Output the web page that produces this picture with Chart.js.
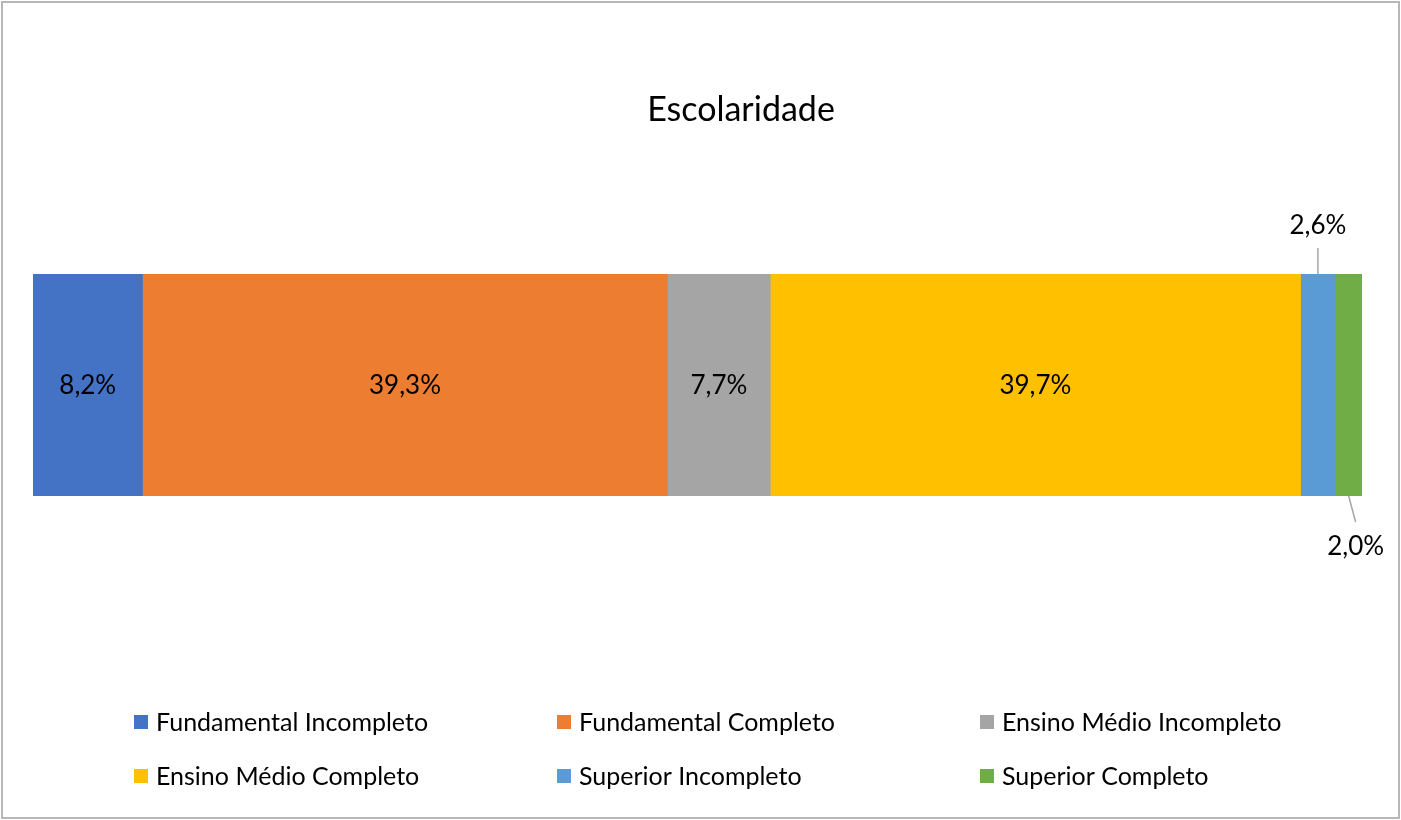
<!DOCTYPE html>
<html>
<head>
<meta charset="utf-8">
<script src="https://cdn.jsdelivr.net/npm/chart.js@4.4.1/dist/chart.umd.min.js"></script>
<style>
    body { margin: 0; background: #fff; }
    .moldura {
        position: absolute; left: 1px; top: 1px;
        width: 1395px; height: 814px;
        border: 2px solid #b7b7b7;
    }
    canvas { position: absolute; left: 0; top: 0; }
</style>
</head>
<body>
<div class="moldura"></div>
<canvas id="chartEscolaridade" width="1401" height="820"></canvas>
<script>
const categorias = ["Escolaridade"];
const niveis = [
    "Fundamental Incompleto",
    "Fundamental Completo",
    "Ensino Médio Incompleto",
    "Ensino Médio Completo",
    "Superior Incompleto",
    "Superior Completo"
];
const percentuais = [8.2, 39.3, 7.7, 39.7, 2.6, 2.0];
const cores = ["#4472C4", "#ED7D31", "#A5A5A5", "#FFC000", "#5B9BD5", "#70AD47"];

const FONTE = "Lato, 'Open Sans', sans-serif";
const total = percentuais.reduce((a, b) => a + b, 0);

function formatar(v) {
    return v.toFixed(1).replace(".", ",") + "%";
}

// titulo, rotulos e legenda desenhados por cima do grafico
const extras = {
    id: "extras",
    afterDraw(chart) {
        const ctx = chart.ctx;
        ctx.save();
        ctx.fillStyle = "#000";

        // titulo
        ctx.font = "34px " + FONTE;
        ctx.textAlign = "center";
        ctx.textBaseline = "middle";
        ctx.fillText(categorias[0], 741, 110);

        // rotulos de dados
        ctx.font = "26px " + FONTE;
        chart.data.datasets.forEach((ds, i) => {
            const bar = chart.getDatasetMeta(i).data[0];
            const x = (bar.x + bar.base) / 2;
            const txt = formatar(ds.data[0]);
            const top = bar.y - bar.height / 2;
            const bottom = bar.y + bar.height / 2;
            ctx.strokeStyle = "#a6a6a6";
            ctx.lineWidth = 1.5;
            if (i === 4) {
                ctx.beginPath();
                ctx.moveTo(x, top);
                ctx.lineTo(x, top - 26);
                ctx.stroke();
                ctx.fillText(txt, x, top - 48);
            } else if (i === 5) {
                ctx.beginPath();
                ctx.moveTo(x, bottom);
                ctx.lineTo(x + 7, bottom + 26);
                ctx.stroke();
                ctx.fillText(txt, x + 7, bottom + 51);
            } else {
                ctx.fillText(txt, x, bar.y + 1);
            }
        });

        // legenda em 3 colunas
        ctx.textAlign = "left";
        ctx.font = "25px " + FONTE;
        chart.data.datasets.forEach((ds, i) => {
            const col = i % 3;
            const row = Math.floor(i / 3);
            const lx = 134 + col * 423;
            const ly = 722 + row * 54;
            ctx.fillStyle = ds.backgroundColor;
            ctx.fillRect(lx, ly - 7, 14, 14);
            ctx.fillStyle = "#000";
            ctx.fillText(ds.label, lx + 22, ly + 1);
        });
        ctx.restore();
    }
};

const ctx = document.getElementById("chartEscolaridade").getContext("2d");
new Chart(ctx, {
    type: "bar",
    data: {
        labels: categorias,
        datasets: niveis.map((n, i) => ({
            label: n,
            data: [percentuais[i]],
            backgroundColor: cores[i],
            borderWidth: 0,
            categoryPercentage: 1,
            barPercentage: 1
        }))
    },
    options: {
        indexAxis: "y",
        responsive: false,
        animation: false,
        layout: { padding: { left: 33, right: 39, top: 274, bottom: 324 } },
        plugins: {
            legend: { display: false },
            title: { display: false },
            tooltip: { enabled: false }
        },
        scales: {
            x: { stacked: true, min: 0, max: total, display: false },
            y: { stacked: true, display: false }
        }
    },
    plugins: [extras]
});
</script>
</body>
</html>
